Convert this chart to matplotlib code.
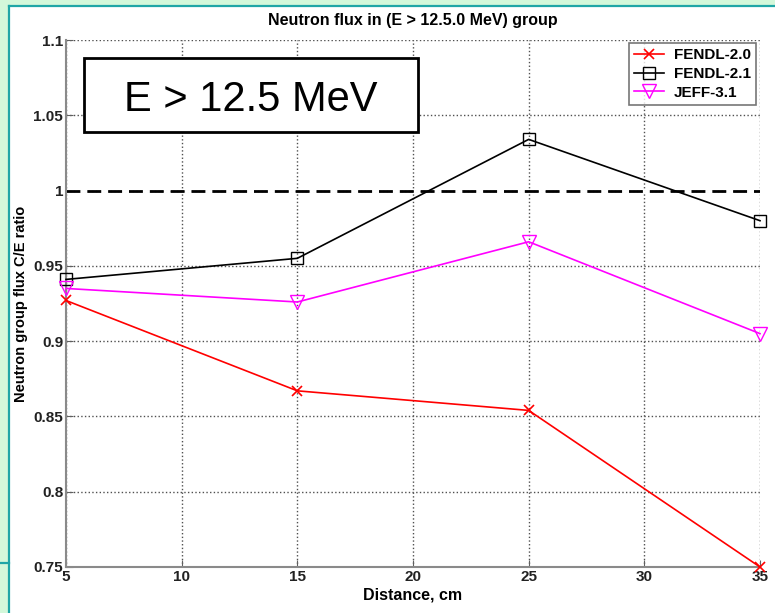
import matplotlib.pyplot as plt
from matplotlib.patches import Rectangle
from matplotlib.lines import Line2D

plt.rcParams['font.family'] = ['Liberation Sans', 'DejaVu Sans']

distance = [5, 15, 25, 35]
fendl20 = [0.927, 0.867, 0.854, 0.750]
fendl21 = [0.941, 0.955, 1.034, 0.980]
jeff31 = [0.935, 0.926, 0.966, 0.905]
labels = ['FENDL-2.0', 'FENDL-2.1', 'JEFF-3.1']

x_ticks = [5, 10, 15, 20, 25, 30, 35]
y_ticks = [0.75, 0.8, 0.85, 0.9, 0.95, 1.0, 1.05, 1.1]
y_ticklabels = ['0.75', '0.8', '0.85', '0.9', '0.95', '1', '1.05', '1.1']

W, H = 775, 613
fig = plt.figure(figsize=(W / 100, H / 100), dpi=100)
fig.patch.set_facecolor('white')

# slide frame around the figure
green = '#d3f8da'
teal = '#1fa6a6'
fig.patches.append(Rectangle((0, 0), 9 / W, 1, transform=fig.transFigure,
                             facecolor=green, edgecolor='none', zorder=0))
fig.patches.append(Rectangle((0, 1 - 6 / H), 1, 6 / H, transform=fig.transFigure,
                             facecolor=green, edgecolor='none', zorder=0))
fig.lines.append(Line2D([9 / W, 9 / W], [0, 1 - 6 / H], transform=fig.transFigure,
                        color=teal, lw=1.6))
fig.lines.append(Line2D([9 / W, 1], [1 - 6 / H, 1 - 6 / H], transform=fig.transFigure,
                        color=teal, lw=1.6))
fig.lines.append(Line2D([0, 9 / W], [1 - 563 / H, 1 - 563 / H], transform=fig.transFigure,
                        color=teal, lw=1.6))

ax = fig.add_axes([66 / W, 1 - 567 / H, (760 - 66) / W, (567 - 40) / H])

ax.plot(distance, fendl20, color='red', marker='x', ms=7, mew=1.2, lw=1.2,
        label=labels[0], clip_on=False, zorder=3)
ax.plot(distance, fendl21, color='black', marker='s', ms=8, mfc='none', mew=1.0, lw=1.2,
        label=labels[1], clip_on=False, zorder=3)
ax.plot(distance, jeff31, color='magenta', marker='v', ms=10, mfc='none', mew=1.0, lw=1.2,
        label=labels[2], clip_on=False, zorder=3)
ax.plot([5, 35], [1.0, 1.0], color='black', ls=(0, (5, 2.5)), lw=2.0,
        gapcolor='white', zorder=2)

ax.set_xlim(5, 35)
ax.set_ylim(0.75, 1.1)
ax.set_xticks(x_ticks)
ax.set_yticks(y_ticks)
ax.set_yticklabels(y_ticklabels)
ax.grid(True, ls=':', color='#505050', lw=1.0)
ax.set_axisbelow(True)
for s in ['top', 'right']:
    ax.spines[s].set_visible(False)
for s in ['left', 'bottom']:
    ax.spines[s].set_color('#8a8a8a')
    ax.spines[s].set_linewidth(1.5)
ax.tick_params(direction='in', length=5, color='#606060', labelsize=11, pad=2)
for t in ax.get_xticklabels() + ax.get_yticklabels():
    t.set_fontweight('bold')
    t.set_color('#222222')

ax.set_title('Neutron flux in (E > 12.5.0 MeV) group', fontsize=11.5, fontweight='bold', pad=11)
ax.set_xlabel('Distance, cm', fontsize=11.5, fontweight='bold', labelpad=3)
ax.set_ylabel('Neutron group flux C/E ratio', fontsize=10.5, fontweight='bold', labelpad=4)

leg = ax.legend(loc='upper right', prop={'weight': 'bold', 'size': 11},
                frameon=True, fancybox=False, borderpad=0.35, handlelength=2.0,
                handletextpad=0.6, labelspacing=0.3, borderaxespad=0,
                bbox_to_anchor=((756 - 66) / (760 - 66), 1 - 3 / 527))
leg.get_frame().set_edgecolor('#555555')
leg.get_frame().set_linewidth(1.2)

# energy group annotation box
fig.patches.append(Rectangle((84 / W, 1 - 132 / H), (418 - 84) / W, (132 - 58) / H,
                             transform=fig.transFigure, facecolor='white',
                             edgecolor='black', lw=2, zorder=5))
fig.text(251 / W, 1 - 111 / H, 'E > 12.5 MeV', fontsize=30, ha='center', va='baseline',
         zorder=6)

fig.savefig('out.png', dpi=100)
